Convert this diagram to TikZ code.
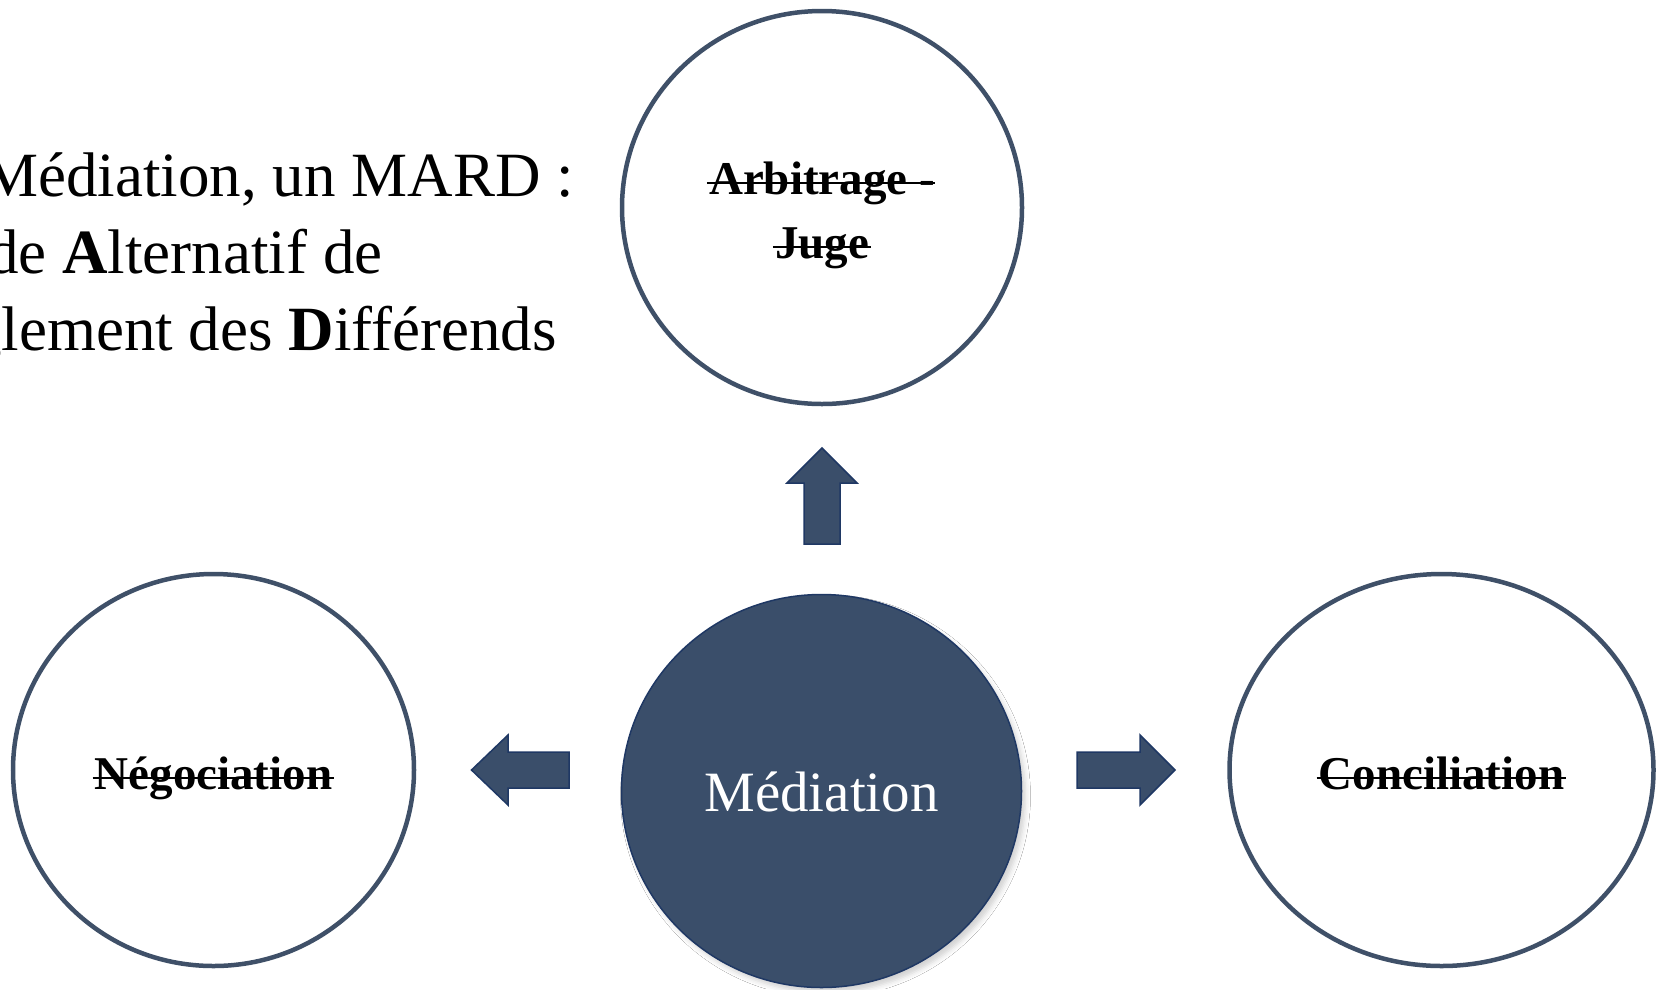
\documentclass[tikz,border=0pt]{standalone}
\usepackage{fontspec}
\setmainfont{Liberation Serif}
\usetikzlibrary{shapes.geometric,shadows.blur}
\definecolor{ring}{HTML}{3F5068}
\definecolor{navy}{HTML}{3A4E6A}
\definecolor{navyedge}{HTML}{1F3864}
\begin{document}
\begin{tikzpicture}[x=1pt,y=-1pt,
  ringnode/.style={ellipse,draw=ring,line width=4.5pt,fill=white,inner sep=0pt},
  corenode/.style={ellipse,draw=navyedge,line width=1.5pt,fill=navy,inner sep=0pt,
    blur shadow={shadow xshift=4pt,shadow yshift=-5pt,shadow blur radius=5pt,shadow opacity=18}},
  strucktext/.style={font=\bfseries\fontsize{47}{65}\selectfont,anchor=base,inner sep=0pt},
  strikeline/.style={line width=2pt,black},
  headtext/.style={font=\fontsize{63}{77}\selectfont,anchor=base west,inner sep=0pt},
  blockarrow/.style={fill=navy,draw=navyedge,line width=1.5pt,line join=miter}]
\useasboundingbox (0,0) rectangle (1661,989);
\clip (0,0) rectangle (1661,989);
\fill[white] (0,0) rectangle (1661,989);

% heading (cut by the left edge, as in the reference)
\node[headtext] (t1) at (-100,196) {La Médiation, un MARD :};
\node[headtext] (t2) at (-104,273) {\textbf{M}ode \textbf{A}lternatif de};
\node[headtext] (t3) at (-104,350) {\textbf{R}èglement des \textbf{D}ifférends};

% circles
\node[ringnode,minimum width=400pt,minimum height=393pt] (arb) at (822,207.5) {};
\node[ringnode,minimum width=401pt,minimum height=392pt] (neg) at (213.5,770) {};
\node[ringnode,minimum width=424pt,minimum height=392pt] (con) at (1441.5,770) {};
\node[corenode,minimum width=400pt,minimum height=393pt] (med) at (821.5,791) {};

% struck-out texts
\node[strucktext] (arbt1) at (822,194) {Arbitrage -};
\node[strucktext] (arbt2) at (822,258) {Juge};
\node[strucktext] (negt) at (213.5,789) {Négociation};
\node[strucktext] (cont) at (1441.5,789) {Conciliation};
\draw[strikeline] ([xshift=-2pt,yshift=11pt]arbt1.base west) -- ([yshift=11pt]arbt1.base east);
\draw[strikeline] ([xshift=-2pt,yshift=11pt]arbt2.base west) -- ([xshift=2pt,yshift=11pt]arbt2.base east);
\draw[strikeline] ([xshift=-2pt,yshift=11pt]negt.base west) -- ([xshift=2pt,yshift=11pt]negt.base east);
\draw[strikeline] ([xshift=-2pt,yshift=11pt]cont.base west) -- ([xshift=2pt,yshift=11pt]cont.base east);

\node[font=\fontsize{57}{60}\selectfont,text=white,anchor=base,inner sep=0pt] (medt) at (821.5,811) {Médiation};

% block arrows
\draw[blockarrow] (822,448) -- (857,483) -- (840,483) -- (840,544) -- (804,544) -- (804,483) -- (787,483) -- cycle;
\draw[blockarrow] (471.5,770) -- (508,735) -- (508,752) -- (569,752) -- (569,788) -- (508,788) -- (508,805) -- cycle;
\draw[blockarrow] (1175,770) -- (1140,735) -- (1140,752) -- (1077,752) -- (1077,788) -- (1140,788) -- (1140,805) -- cycle;
\end{tikzpicture}
\end{document}
